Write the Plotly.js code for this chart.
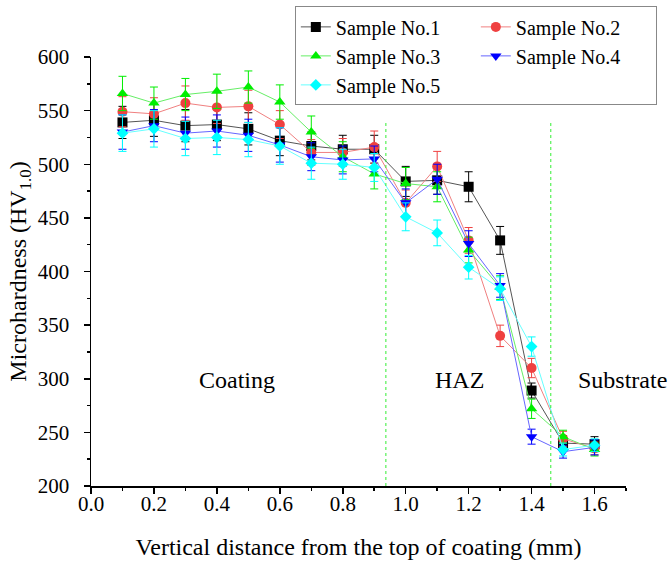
<!DOCTYPE html>
<html>
<head>
<meta charset="utf-8">
<script src="https://cdn.plot.ly/plotly-3.0.1.min.js"></script>
<style>html,body{margin:0;padding:0;background:#fff;}#chart{width:670px;height:564px;}</style>
</head>
<body>
<div id="chart"></div>
<script>
const xVals = [0.1, 0.2, 0.3, 0.4, 0.5, 0.6, 0.7, 0.8, 0.9, 1.0, 1.1, 1.2, 1.3, 1.4, 1.5, 1.6];

const names = ["Sample No.1", "Sample No.2", "Sample No.3", "Sample No.4", "Sample No.5"];

const s1 = [539, 541, 536, 537, 533, 522, 517, 514, 514, 484, 485, 479, 429, 289, 240, 239];
const e1 = [15, 15, 15, 15, 15, 14, 13, 13, 13, 14, 13, 14, 13, 7, 7, 7];

const s2 = [549, 547, 557, 553, 554, 537, 511, 511, 516, 464, 498, 429, 340, 310, 244, 235];
const e2 = [14, 15, 16, 15, 15, 13, 12, 13, 15, 12, 14, 12, 10, 9, 7, 6];

const s3 = [566, 557, 565, 568, 572, 558, 530, 507, 491, 482, 479, 420, 385, 272, 246, 234];
const e3 = [16, 15, 15, 16, 15, 16, 15, 14, 14, 15, 14, 12, 11, 9, 6, 6];

const s4 = [530, 536, 529, 531, 527, 518, 507, 504, 505, 464, 486, 426, 387, 246, 232, 236];
const e4 = [16, 15, 15, 15, 15, 16, 13, 13, 12, 13, 14, 12, 11, 7, 6, 7];

const s5 = [529, 533, 524, 525, 523, 517, 501, 500, 497, 451, 436, 404, 384, 330, 234, 238];
const e5 = [17, 17, 16, 16, 16, 17, 15, 14, 13, 13, 12, 11, 11, 9, 6, 6];

const boundaries = [0.937, 1.461];
const regionLabels = ["Coating", "HAZ", "Substrate"];
const regionLabelX = [0.463, 1.171, 1.688];
const regionLabelY = 299;

const series = [s1, s2, s3, s4, s5];
const errs = [e1, e2, e3, e4, e5];
const markerColors = ["#000000", "#ef4040", "#00ee00", "#0000ff", "#00ffff"];
const lineColors = ["#555555", "#f08080", "#66ee66", "#6666ff", "#66ffff"];
const symbols = ["square", "circle", "triangle-up", "triangle-down", "diamond"];
const sizes = [10, 10, 10, 10, 9];

const font = "Liberation Serif";

const traces = series.map((s, i) => ({
  type: "scatter",
  mode: "lines+markers",
  name: names[i],
  x: xVals,
  y: s,
  line: {color: lineColors[i], width: 1},
  marker: {symbol: symbols[i], size: sizes[i], color: markerColors[i], line: {width: 0}},
  error_y: {type: "data", array: errs[i], visible: true, color: markerColors[i], thickness: 1, width: 4}
}));

const shapes = boundaries.map(b => ({
  type: "line", xref: "x", yref: "y",
  x0: b, x1: b, y0: 200, y1: 540,
  line: {color: "#33ee33", width: 1, dash: "3px,3px"}
}));

const annotations = regionLabels.map((t, i) => ({
  text: t, x: regionLabelX[i], y: regionLabelY, xref: "x", yref: "y",
  showarrow: false, font: {family: font, size: 24, color: "#000"}
}));

const layout = {
  width: 670, height: 564,
  margin: {l: 91, r: 44, t: 57, b: 78, autoexpand: false},
  paper_bgcolor: "#fff", plot_bgcolor: "#fff",
  font: {family: font, size: 21, color: "#000"},
  showlegend: true,
  legend: {
    orientation: "h", x: 0.381, xanchor: "left", y: 1.118, yanchor: "top",
    bordercolor: "#888", borderwidth: 1, bgcolor: "#fff",
    font: {family: font, size: 20, color: "#000"},
    entrywidth: 135, entrywidthmode: "pixels", tracegroupgap: 0
  },
  xaxis: {
    range: [0, 1.7], dtick: 0.2, tick0: 0, tickformat: ".1f",
    showline: true, linecolor: "#000", linewidth: 1.5,
    ticks: "outside", ticklen: 6, tickwidth: 1.5, tickcolor: "#000",
    minor: {ticks: "outside", ticklen: 3, tickwidth: 1.5, tickcolor: "#000", dtick: 0.1, tick0: 0, showgrid: false},
    showgrid: false, zeroline: false,
    ticklabelstandoff: -8,
    tickfont: {family: font, size: 21},
    title: {text: "Vertical distance from the top of coating (mm)", font: {family: font, size: 24}, standoff: 23}
  },
  yaxis: {
    range: [200, 600], dtick: 50, tick0: 200,
    showline: true, linecolor: "#000", linewidth: 1.5,
    ticks: "outside", ticklen: 6, tickwidth: 1.5, tickcolor: "#000",
    minor: {ticks: "outside", ticklen: 3, tickwidth: 1.5, tickcolor: "#000", dtick: 25, tick0: 200, showgrid: false},
    showgrid: false, zeroline: false,
    ticklabelstandoff: 10,
    tickfont: {family: font, size: 21},
    title: {text: "Microhardness (HV<sub>1.0</sub>)", font: {family: font, size: 24}, standoff: 4}
  },
  shapes: shapes,
  annotations: annotations
};

Plotly.newPlot("chart", traces, layout, {displayModeBar: false, staticPlot: true});
</script>
</body>
</html>
